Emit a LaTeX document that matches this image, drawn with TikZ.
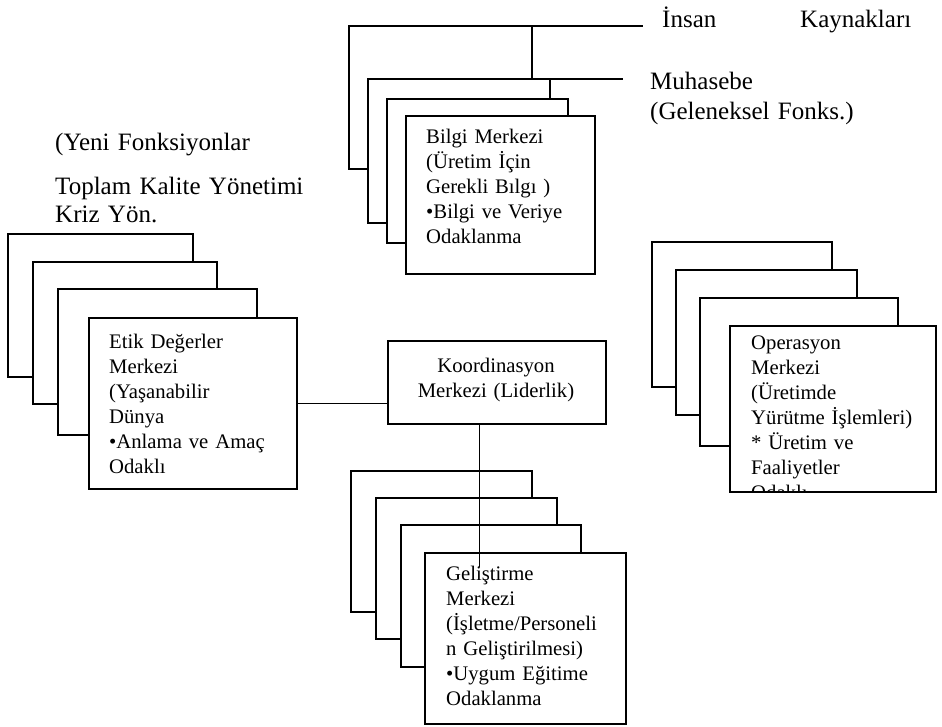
\documentclass[tikz,border=0pt]{standalone}
\usepackage{fontspec}
\setmainfont{Liberation Serif}
\begin{document}
\begin{tikzpicture}[x=1pt,y=-1pt,
  stk/.style={line width=1.5pt, line join=miter},
  cbox/.style={draw, line width=1.5pt, rectangle, inner sep=0pt, anchor=north west},
  btxt/.style={anchor=base west, inner sep=0pt, text width=#1, align=left, font=\fontsize{20.7}{25}\selectfont},
  lbl/.style={anchor=base west, inner sep=0pt, text width=#1, align=left, font=\fontsize{25}{29}\selectfont},
  conn/.style={line width=1pt}]
\useasboundingbox (0,0) rectangle (942,726);

% ---------- labels ----------
\node[lbl=80pt] (insan) at (662,27) {İnsan};
\node[lbl=130pt] (kaynak) at (800,27) {Kaynakları};
\node[lbl=250pt] (muh) at (650,89) {Muhasebe\\[1pt](Geleneksel Fonks.)};
\node[lbl=260pt] (yeni) at (55,150) {(Yeni Fonksiyonlar};
\node[lbl=280pt] (tkv) at (55,194) {Toplam Kalite Yönetimi\\[-1pt]Kriz Yön.};

% ---------- Bilgi stack ----------
\draw[stk] (368,169) -- (349,169) -- (349,26) -- (643,26);
\draw[stk] (532,26) -- (532,79);
\draw[stk] (387,223) -- (368,223) -- (368,79) -- (623,79);
\draw[stk] (550,79) -- (550,99);
\draw[stk] (405,243) -- (387,243) -- (387,99) -- (568,99) -- (568,115);
\node[cbox, minimum width=189pt, minimum height=158pt] (bilgi) at (405,115) {};
\node[btxt=165pt] (bilgiT) at (426,143) {Bilgi Merkezi\\(Üretim İçin\\Gerekli Bılgı )\\•Bilgi ve Veriye\\Odaklanma};

% ---------- Etik stack ----------
\draw[stk] (33,377) -- (8,377) -- (8,234) -- (193,234) -- (193,262);
\draw[stk] (58,404) -- (33,404) -- (33,262) -- (217,262) -- (217,289);
\draw[stk] (88,435) -- (58,435) -- (58,289) -- (257,289) -- (257,317);
\node[cbox, minimum width=208pt, minimum height=171pt] (etik) at (88,317) {};
\node[btxt=185pt] (etikT) at (109,348) {Etik Değerler\\Merkezi\\(Yaşanabilir\\Dünya\\•Anlama ve Amaç\\Odaklı};

% ---------- Koordinasyon ----------
\node[cbox, minimum width=218pt, minimum height=83pt] (koord) at (387,340) {};
\node[anchor=base, inner sep=0pt, text width=218pt, align=center, font=\fontsize{20.7}{25}\selectfont] (koordT) at (496,372) {Koordinasyon\\Merkezi (Liderlik)};

% ---------- Gelistirme stack ----------
\draw[stk] (376,612) -- (351,612) -- (351,471) -- (532,471) -- (532,498);
\draw[stk] (401,639) -- (376,639) -- (376,498) -- (557,498) -- (557,525);
\draw[stk] (424,667) -- (401,667) -- (401,525) -- (581,525) -- (581,552);
\node[cbox, minimum width=201pt, minimum height=171pt] (gel) at (424,552) {};
\node[btxt=175pt] (gelT) at (446,580) {Geliştirme\\Merkezi\\(İşletme/Personeli\\n Geliştirilmesi)\\•Uygum Eğitime\\Odaklanma};

% ---------- Operasyon stack ----------
\draw[stk] (676,387) -- (652,387) -- (652,242) -- (832,242) -- (832,270);
\draw[stk] (700,415) -- (676,415) -- (676,270) -- (857,270) -- (857,298);
\draw[stk] (729,446) -- (700,446) -- (700,298) -- (898,298) -- (898,325);
\node[cbox, minimum width=206pt, minimum height=166pt] (oper) at (729,325) {};
\begin{scope}
\clip (729,325) rectangle (935,490);
\node[btxt=180pt] (operT) at (751,349) {Operasyon\\Merkezi\\(Üretimde\\Yürütme İşlemleri)\\{*} Üretim ve\\Faaliyetler\\Odaklı};
\end{scope}

% ---------- connectors ----------
\coordinate (gtop) at (479,567);
\draw[conn] (etik.east) -- (etik.east -| koord.west);
\draw[conn] (koord.south -| gtop) -- (gtop);
\end{tikzpicture}
\end{document}
